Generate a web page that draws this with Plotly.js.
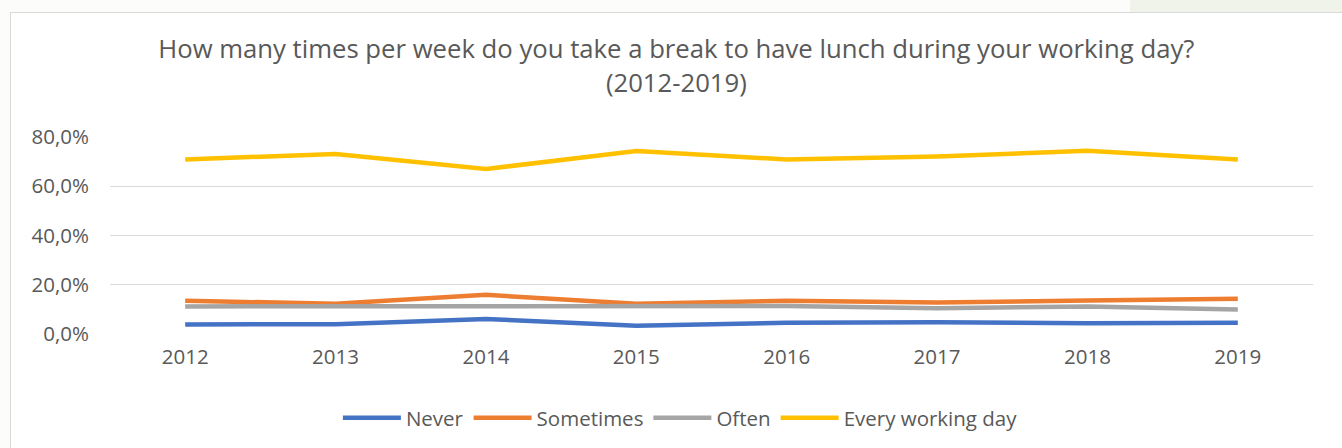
<!DOCTYPE html>
<html>
<head>
<meta charset="utf-8">
<script src="https://cdn.plot.ly/plotly-3.0.1.min.js"></script>
<style>
  html, body { margin: 0; padding: 0; background: #ffffff; }
  #wrap { position: relative; width: 1342px; height: 448px; overflow: hidden; background: #fcfcfb; }
  #topband { position: absolute; left: 1130px; top: 0; width: 212px; height: 12px; background: #f0f3ea; }
  #frame { position: absolute; left: 10px; top: 12px; width: 1340px; height: 445px; border: 1px solid #d9d9d9; background: #ffffff; box-sizing: border-box; }
  #chart { position: absolute; left: 0; top: 0; width: 1342px; height: 448px; }
</style>
</head>
<body>
<div id="wrap">
  <div id="topband"></div>
  <div id="frame"></div>
  <div id="chart"></div>
</div>
<script>
const years = ['2012', '2013', '2014', '2015', '2016', '2017', '2018', '2019'];
const never = [3.9, 4.0, 6.1, 3.3, 4.6, 4.8, 4.4, 4.6];
const sometimes = [13.5, 12.3, 15.9, 12.3, 13.5, 12.8, 13.6, 14.3];
const often = [11.2, 11.2, 11.2, 11.0, 11.4, 10.5, 11.2, 9.9];
const everyDay = [70.9, 73.1, 67.0, 74.3, 70.9, 72.1, 74.4, 70.9];
const seriesNames = ['Never', 'Sometimes', 'Often', 'Every working day'];
const seriesColors = ['#4472C4', '#ED7D31', '#A5A5A5', '#FFC000'];
const yTicks = [0, 20, 40, 60, 80];

const allSeries = [never, sometimes, often, everyDay];
const traces = allSeries.map((vals, i) => ({
  type: 'scatter',
  mode: 'lines',
  x: years,
  y: vals.map(v => v / 100),
  name: seriesNames[i],
  line: { color: seriesColors[i], width: 4.5 },
  hoverinfo: 'skip'
}));

const layout = {
  width: 1342,
  height: 448,
  paper_bgcolor: 'rgba(0,0,0,0)',
  plot_bgcolor: 'rgba(0,0,0,0)',
  separators: ', ',
  font: { family: 'Open Sans, sans-serif', color: '#595959', size: 20.5 },
  margin: { l: 110, r: 29, t: 137, b: 114 },
  title: {
    text: 'How many times per week do you take a break to have lunch during your working day?<br>(2012-2019)',
    font: { family: 'Open Sans, sans-serif', size: 25.7, color: '#595959' },
    xref: 'container', x: 0.504, xanchor: 'center',
    yref: 'container', y: 0.87, yanchor: 'middle'
  },
  xaxis: {
    type: 'category',
    range: [-0.5, years.length - 0.5],
    showgrid: false,
    zeroline: false,
    showline: false,
    ticks: '',
    tickfont: { size: 20.5, color: '#595959' },
    ticklabelstandoff: 8
  },
  yaxis: {
    range: [0, 0.8],
    tickvals: yTicks.map(v => v / 100),
    tickformat: '.1%',
    showgrid: true,
    gridcolor: '#d9d9d9',
    gridwidth: 1,
    zeroline: false,
    showline: false,
    ticks: '',
    tickfont: { size: 20.5, color: '#595959' },
    ticklabelstandoff: 20
  },
  showlegend: true,
  legend: {
    orientation: 'h',
    xref: 'container', x: 0.507, xanchor: 'center',
    yref: 'container', y: 0.067, yanchor: 'middle',
    font: { size: 20.5, color: '#595959' },
    itemwidth: 58,
    bgcolor: 'rgba(0,0,0,0)'
  }
};

Plotly.newPlot('chart', traces, layout, { displayModeBar: false, staticPlot: true });
</script>
</body>
</html>
